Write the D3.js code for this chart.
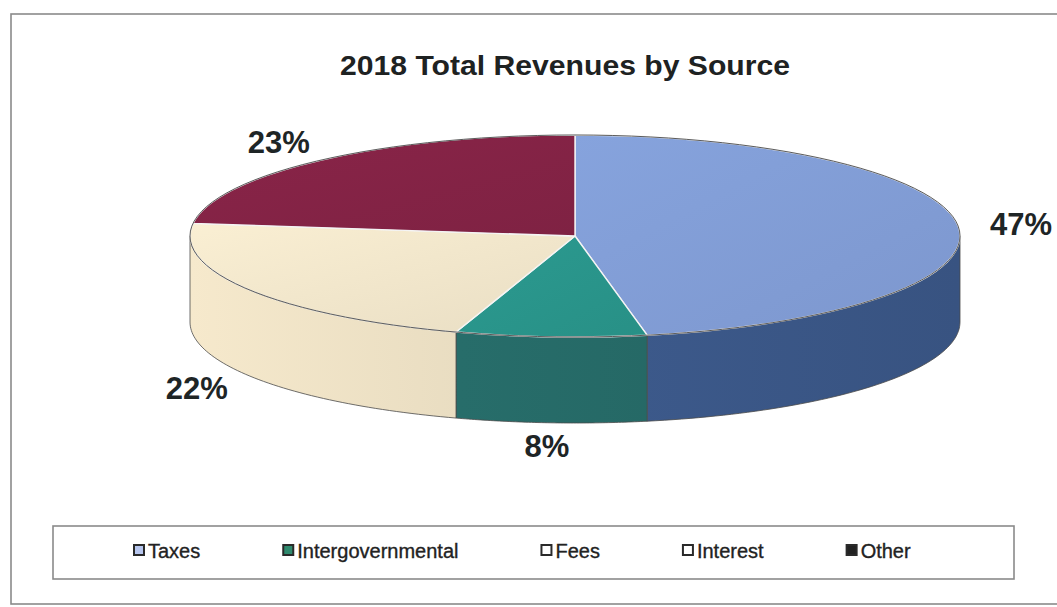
<!DOCTYPE html>
<html>
<head>
<meta charset="utf-8">
<script src="https://cdn.jsdelivr.net/npm/d3@7"></script>
<style>
  html, body { margin: 0; padding: 0; background: #fff; }
  svg { display: block; font-family: "Liberation Sans", Arial, sans-serif; }
</style>
</head>
<body>
<svg id="chart" width="1057" height="607"></svg>
<script>
// Revenue sources and their shares (percent of 2018 total revenues)
const categories = ["Taxes", "Intergovernmental", "Fees", "Interest", "Other"];
const shares = [47, 8, 22, 0, 23];
const labels = ["47%", "8%", "22%", "", "23%"];
const chartTitle = "2018 Total Revenues by Source";

// Fill colours per category: top face, side wall, legend swatch
const topColors  = ["#829ed7", "#2a968c", "#f3e8cd", "#ffffff", "#852346"];
const sideColors = ["#3f5e92", "#286f6c", "#ede1c5", "#ffffff", "#6e1c3a"];
const swatchColors = ["#b7c6ee", "#2f8a6e", "#ffffff", "#ffffff", "#222222"];

const svg = d3.select("#chart");
const W = 1057, H = 607;

// frame
svg.append("rect")
  .attr("x", 11).attr("y", 14).attr("width", W + 10).attr("height", 590)
  .attr("fill", "#fff").attr("stroke", "#8a8a8a").attr("stroke-width", 1.6);

// title
svg.append("text")
  .attr("x", 565).attr("y", 75)
  .attr("text-anchor", "middle")
  .attr("font-size", 28).attr("font-weight", "bold")
  .attr("fill", "#1e2222")
  .attr("textLength", 450).attr("lengthAdjust", "spacingAndGlyphs")
  .text(chartTitle);

// pie geometry (ellipse projection of a tilted disc)
const cx = 575, cy = 236, rx = 385, ry = 101, depth = 86;
const pt = (a, dy = 0) => [cx + rx * Math.sin(a), cy - ry * Math.cos(a) + dy];

const pie = d3.pie().sort(null).value(d => d.value).startAngle(0).endAngle(2 * Math.PI);
const data = categories.map((c, i) => ({ name: c, value: shares[i], label: labels[i], i }));
const arcs = pie(data).filter(d => d.value > 0);

const defs = svg.append("defs");
// gradients for the top faces and the side walls
arcs.forEach(d => {
  const i = d.data.i;
  const gt = defs.append("linearGradient").attr("id", "top" + i)
    .attr("x1", "0%").attr("y1", "0%").attr("x2", "100%").attr("y2", "100%");
  gt.append("stop").attr("offset", "0%").attr("stop-color", d3.color(topColors[i]).brighter(0.08));
  gt.append("stop").attr("offset", "100%").attr("stop-color", d3.color(topColors[i]).darker(0.12));
  const gs = defs.append("linearGradient").attr("id", "side" + i)
    .attr("gradientUnits", "userSpaceOnUse")
    .attr("x1", cx - rx).attr("y1", 0).attr("x2", cx + rx).attr("y2", 0);
  gs.append("stop").attr("offset", "0%").attr("stop-color", d3.color(sideColors[i]).brighter(0.1));
  gs.append("stop").attr("offset", "100%").attr("stop-color", d3.color(sideColors[i]).darker(0.35));
});

// side walls: only the front half (angles between PI/2 and 3PI/2) is visible
const sideG = svg.append("g");
arcs.forEach(d => {
  const a0 = Math.max(d.startAngle, Math.PI / 2);
  const a1 = Math.min(d.endAngle, 3 * Math.PI / 2);
  if (a1 <= a0) return;
  const n = 60;
  const top = d3.range(n + 1).map(k => pt(a0 + (a1 - a0) * k / n));
  const bot = d3.range(n + 1).map(k => pt(a1 - (a1 - a0) * k / n, depth));
  sideG.append("path")
    .attr("d", "M" + top.concat(bot).map(p => p.join(",")).join("L") + "Z")
    .attr("fill", `url(#side${d.data.i})`)
    .attr("stroke", "#4a4a4a").attr("stroke-width", 0.8).attr("stroke-linejoin", "round");
});

// top faces
const topG = svg.append("g");
arcs.forEach(d => {
  const p0 = pt(d.startAngle), p1 = pt(d.endAngle);
  const large = (d.endAngle - d.startAngle) > Math.PI ? 1 : 0;
  topG.append("path")
    .attr("d", `M${cx},${cy}L${p0[0]},${p0[1]}A${rx},${ry} 0 ${large} 1 ${p1[0]},${p1[1]}Z`)
    .attr("fill", `url(#top${d.data.i})`)
    .attr("stroke", "#f4f4f4").attr("stroke-width", 1.4).attr("stroke-linejoin", "round");
});
// outer rim of the top face
topG.append("ellipse")
  .attr("cx", cx).attr("cy", cy).attr("rx", rx).attr("ry", ry)
  .attr("fill", "none").attr("stroke", "#4a4a4a").attr("stroke-width", 0.9);

// percentage labels placed outside the disc
const lrx = 448, lry = 125;
arcs.forEach(d => {
  if (!d.data.label) return;
  const m = (d.startAngle + d.endAngle) / 2;
  const x = cx + lrx * Math.sin(m);
  const y = cy - lry * Math.cos(m) + (Math.cos(m) < 0 ? depth : 0);
  svg.append("text")
    .attr("x", x).attr("y", y)
    .attr("text-anchor", "middle").attr("dominant-baseline", "central")
    .attr("font-size", 31).attr("font-weight", "bold").attr("fill", "#1e2526")
    .text(d.data.label);
});

// legend
svg.append("rect")
  .attr("x", 53).attr("y", 526).attr("width", 961).attr("height", 53)
  .attr("fill", "#fff").attr("stroke", "#8a8a8a").attr("stroke-width", 1.6);

let lx = 133;
const ly = 551;
categories.forEach((c, i) => {
  const g = svg.append("g");
  g.append("rect")
    .attr("x", lx + 1).attr("y", ly - 6).attr("width", 10).attr("height", 10)
    .attr("fill", swatchColors[i]).attr("stroke", "#2a2a2a").attr("stroke-width", 2);
  const t = g.append("text")
    .attr("x", lx + 15).attr("y", ly)
    .attr("dominant-baseline", "central")
    .attr("font-size", 20).attr("fill", "#222")
    .attr("stroke", "#222").attr("stroke-width", 0.35)
    .text(c);
  lx += 15 + t.node().getComputedTextLength() + 82;
});
</script>
</body>
</html>
